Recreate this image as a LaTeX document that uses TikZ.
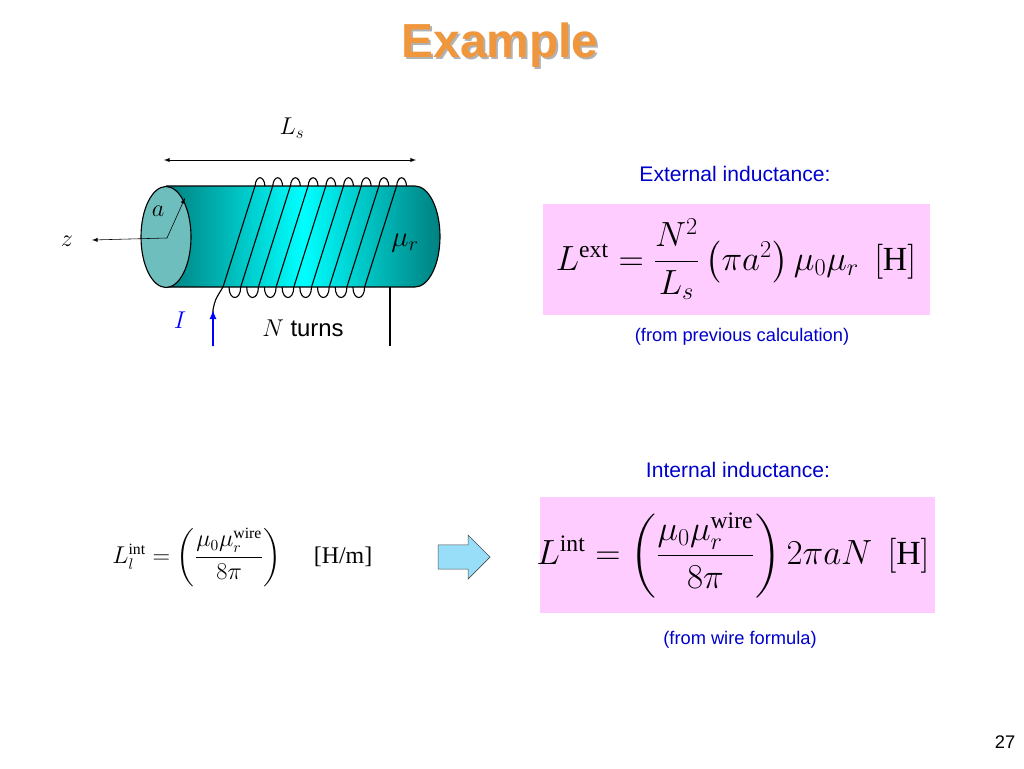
\documentclass[tikz,border=0pt]{standalone}
\usepackage{amsmath}
\usepackage{fontspec}
\setmainfont{Liberation Sans}
\newfontfamily\serifx{Liberation Serif}
\newcommand\rmtxt[1]{\text{\serifx #1}}
\usetikzlibrary{shapes.arrows}
\definecolor{pinkbox}{RGB}{255,204,255}
\definecolor{titleor}{RGB}{240,150,60}
\definecolor{tealdark}{RGB}{0,128,128}
\definecolor{faceteal}{RGB}{110,190,190}
\begin{document}
\begin{tikzpicture}[x=0.25mm,y=-0.25mm]
   \tikzstyle{lbl} = [font=\fontsize{15}{18}\selectfont];
   \tikzstyle{small} = [font=\fontsize{13}{16}\selectfont];
   \tikzstyle{eqbox} = [fill=pinkbox, draw=none];
   \tikzstyle{wire} = [black, line width=0.8pt];
   \tikzstyle{big} = [font=\fontsize{24}{28}\selectfont];

    \useasboundingbox (0,0) rectangle (1024,768);

    % title
    \node[text=gray!60, font=\fontsize{34}{40}\bfseries] (tsh) at (502,47) {Example};
    \node[text=titleor, font=\fontsize{34}{40}\bfseries] (title) at (500,45) {Example};

    % cylinder body
    \path[left color=tealdark, right color=tealdark, middle color=cyan]
      (166,186) -- (415,186) arc[start angle=-90, end angle=90, x radius=25, y radius=50.5]
      -- (166,287) -- cycle;
    \draw[wire] (166,186) -- (415,186) arc[start angle=-90, end angle=90, x radius=25, y radius=50.5]
      -- (166,287);
    \draw[wire, fill=faceteal] (166,237) ellipse[x radius=25, y radius=50.5];

    % windings
    \foreach \i in {0,...,8} {
      \pgfmathsetmacro{\xb}{223+17.7*\i}
      \pgfmathsetmacro{\xt}{255+17.7*\i}
      \draw[wire] (\xb,287) -- (\xt,186)
        .. controls (\xt+1,175) and (\xt+9,175) .. (\xt+10,186);
    }
    \foreach \i in {0,...,7} {
      \pgfmathsetmacro{\xa}{229+17.7*\i}
      \pgfmathsetmacro{\xc}{223+17.7*(\i+1)}
      \draw[wire] (\xa,287) .. controls (\xa,301) and (\xc,301) .. (\xc,287);
    }
    \coordinate (in1) at (223,287);
    \coordinate (in2) at (213,310);
    \coordinate (out1) at (390,287);
    \coordinate (out2) at (390,346);
    \draw[wire] (in1) .. controls (215,300) .. (in2) -- (213,346);
    \draw[wire] (out1) -- (out2);
    \coordinate (cur0) at (213,346);
    \coordinate (cur1) at (213,310);
    \draw[blue, line width=1.2pt, -latex] (cur0) -- (cur1);

    % axes and labels
    \coordinate (cen) at (167,238);
    \coordinate (rim) at (185,198);
    \coordinate (zend) at (92,240);
    \draw[-latex] (cen) -- (rim);
    \draw[-latex] (cen) -- (zend);
    \node (z) at (67,241) {\fontsize{18}{20}\selectfont$z$};
    \node (a) at (158,211) {\fontsize{18}{20}\selectfont$a$};
    \node (mur) at (405,243) {\fontsize{22}{24}\selectfont$\mu_r$};
    \node (I) at (180,320) {\fontsize{18}{20}\selectfont\color{blue}$I$};
    \node[font=\fontsize{17}{20}\selectfont] (Nt) at (303,328) {$N$ turns};
    \coordinate (ls0) at (164,160);
    \coordinate (ls1) at (416,160);
    \draw[latex-latex] (ls0) -- (ls1);
    \node (Ls) at (292,128) {\fontsize{18}{20}\selectfont$L_s$};

    % external inductance
    \node[lbl, text=blue!80!black] (ext) at (735,174) {External inductance:};
    \node[eqbox, minimum width=387*0.25mm, minimum height=111*0.25mm] (box1) at (736.5,259.5) {};
    \node[big] (eq1) at (736,259) {$L^{\rmtxt{ext}}=\dfrac{N^2}{L_s}\left(\pi a^2\right)\mu_0\mu_r\ \left[\rmtxt{H}\right]$};
    \node[small, text=blue!80!black] (prev) at (742,337) {(from previous calculation)};

    % internal inductance
    \node[lbl, text=blue!80!black] (int) at (738,470) {Internal inductance:};
    \node[eqbox, minimum width=395*0.25mm, minimum height=116*0.25mm] (box2) at (737.5,555) {};
    \node[big] (eq2) at (733,555) {$L^{\rmtxt{int}}=\left(\dfrac{\mu_0\mu_r^{\rmtxt{wire}}}{8\pi}\right)2\pi aN\ \left[\rmtxt{H}\right]$};
    \node[small, text=blue!80!black] (wire) at (740,640) {(from wire formula)};

    % per-length formula
    \node[font=\fontsize{16}{20}\selectfont] (eq3) at (197,557) {$L_l^{\rmtxt{int}}=\left(\dfrac{\mu_0\mu_r^{\rmtxt{wire}}}{8\pi}\right)$};
    \node[font=\fontsize{17}{20}\selectfont] (hm) at (343,557) {\serifx [H/m]};
    \node[single arrow, draw=black!70, fill=cyan!40, minimum width=11mm,
          single arrow head extend=1mm, minimum height=13mm] (arr) at (458,557) {};

    \node[small] (pg) at (1005,742) {27};
\end{tikzpicture}
\end{document}
